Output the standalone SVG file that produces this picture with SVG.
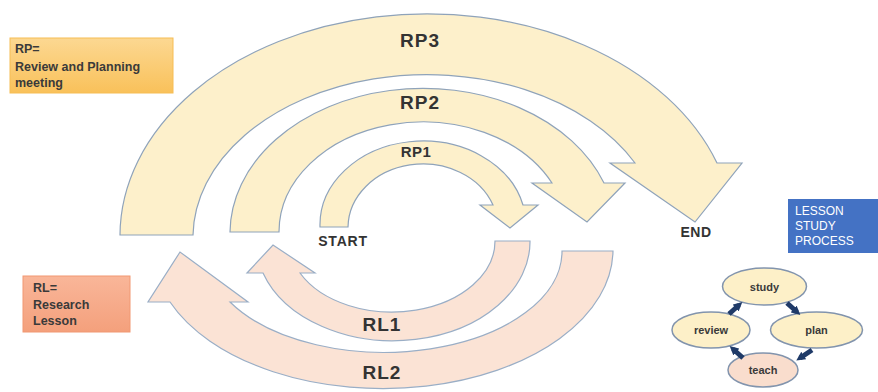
<svg xmlns="http://www.w3.org/2000/svg" width="878" height="392" viewBox="0 0 878 392">
  <defs>
    <linearGradient id="gradRP" x1="0" y1="0" x2="0" y2="1">
      <stop offset="0" stop-color="#fcd892"/>
      <stop offset="1" stop-color="#f9c15a"/>
    </linearGradient>
    <linearGradient id="gradRL" x1="0" y1="0" x2="0" y2="1">
      <stop offset="0" stop-color="#f9b699"/>
      <stop offset="1" stop-color="#f4a07c"/>
    </linearGradient>
    <marker id="head" viewBox="0 0 10 10" refX="5" refY="5" markerWidth="9" markerHeight="9" markerUnits="userSpaceOnUse" orient="auto">
      <path d="M0,0 L10,5 L0,10 Z" fill="#1f3a68"/>
    </marker>
    <style>
      .lbl { font-family: "Liberation Sans", Arial, sans-serif; font-weight: bold; fill: #333333; }
      .big { font-size: 19px; text-anchor: middle; letter-spacing: 1px; }
      .mid { font-size: 14px; text-anchor: middle; }
      .note { font-size: 12.5px; fill: #3a3a3a; }
      .plan-arc { fill: #fdf0cb; stroke: #8fa3ba; stroke-width: 1.2; }
      .lesson-arc { fill: #fbe3d5; stroke: #9aaec6; stroke-width: 1.2; }
      .bubble { stroke: #8294ad; stroke-width: 1.5; }
      .step { font-family: "Liberation Sans", Arial, sans-serif; font-weight: bold; font-size: 11px; fill: #3a3a3a; text-anchor: middle; }
      .cycle { stroke: #1f3a68; stroke-width: 5; fill: none; marker-end: url(#head); }
    </style>
  </defs>

  <rect width="878" height="392" fill="#ffffff"/>

  <!-- Review and Planning block arcs -->
  <g id="rp3">
    <path class="plan-arc" d="M120,235 A307,222 0 0 1 717,163 L742,163 L695,222 L610,163 L635,163 A234,163 0 0 0 193,235 Z"/>
    <text class="lbl big" x="420" y="47">RP3</text>
  </g>
  <g id="rp2">
    <path class="plan-arc" d="M230,232 A193,145 0 0 1 604,183 L625,183 L587,222 L532,183 L552,183 A144,110 0 0 0 279,232 Z"/>
    <text class="lbl big" x="420" y="109">RP2</text>
  </g>
  <g id="rp1">
    <path class="plan-arc" d="M320,227 A103,84 0 0 1 523,205 L538,205 L510,228 L480,205 L493,205 A75,64 0 0 0 348,227 Z"/>
    <text class="lbl" x="416" y="157" style="font-size:15px;text-anchor:middle;letter-spacing:0.5px">RP1</text>
  </g>

  <!-- Research Lesson block arcs -->
  <g id="rl1">
    <path class="lesson-arc" d="M530,241 A137,99 0 0 1 263,273 L247,273 L273,245 L315,273 L300,273 A103,71 0 0 0 495,241 Z"/>
    <text class="lbl big" x="382" y="331">RL1</text>
  </g>
  <g id="rl2">
    <path class="lesson-arc" d="M613,251 A230,139 0 0 1 170,302 L148,302 L180,252 L248,302 L230,302 A178,101 0 0 0 562,251 Z"/>
    <text class="lbl big" x="382" y="379">RL2</text>
  </g>

  <g id="start">
    <text class="lbl mid" x="343" y="246" style="letter-spacing:0.8px">START</text>
  </g>
  <g id="end">
    <text class="lbl mid" x="696" y="237" style="letter-spacing:0.5px">END</text>
  </g>

  <!-- Legend boxes -->
  <g id="legend-rp">
    <rect x="10" y="38" width="163" height="55" fill="url(#gradRP)" stroke="#f6bd55" stroke-width="1"/>
    <text class="lbl note" x="15" y="53">RP=</text>
    <text class="lbl note" x="15" y="71">Review and Planning</text>
    <text class="lbl note" x="15" y="87">meeting</text>
  </g>
  <g id="legend-rl">
    <rect x="23" y="276" width="107" height="56" fill="url(#gradRL)" stroke="#f19873" stroke-width="1"/>
    <text class="lbl note" x="33" y="292">RL=</text>
    <text class="lbl note" x="33" y="309">Research</text>
    <text class="lbl note" x="33" y="325">Lesson</text>
  </g>
  <g id="legend-process">
    <rect x="788" y="199" width="92" height="54" fill="#4472c4"/>
    <g style="font-family:'Liberation Sans',Arial,sans-serif;font-size:12px;fill:#ffffff">
      <text x="795" y="215">LESSON</text>
      <text x="795" y="230">STUDY</text>
      <text x="795" y="245">PROCESS</text>
    </g>
  </g>

  <!-- Lesson study cycle -->
  <g id="study">
    <ellipse class="bubble" cx="764.5" cy="286.5" rx="42" ry="18.5" fill="#fdf0c8"/>
    <text class="step" x="764.5" y="290.5">study</text>
  </g>
  <g id="review">
    <ellipse class="bubble" cx="711" cy="330" rx="39" ry="18" fill="#fdf0c8"/>
    <text class="step" x="711" y="334">review</text>
  </g>
  <g id="plan">
    <ellipse class="bubble" cx="816.5" cy="330" rx="46" ry="18" fill="#fdf0c8"/>
    <text class="step" x="816.5" y="334">plan</text>
  </g>
  <g id="teach">
    <ellipse class="bubble" cx="763" cy="370" rx="35" ry="17" fill="#f9ddcd"/>
    <text class="step" x="763" y="374">teach</text>
  </g>

  <g id="connectors">
    <line class="cycle" x1="729" y1="314" x2="739" y2="305"/>
    <line class="cycle" x1="787" y1="303" x2="797" y2="312"/>
    <line class="cycle" x1="812" y1="350" x2="800" y2="358"/>
    <line class="cycle" x1="743" y1="358" x2="733" y2="349"/>
  </g>
</svg>
